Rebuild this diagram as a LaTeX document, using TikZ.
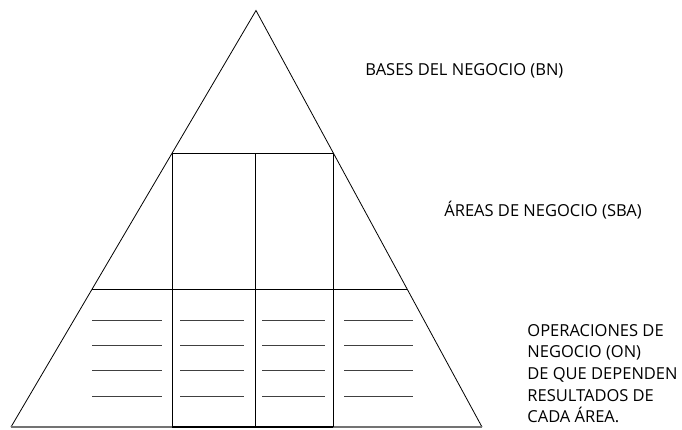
\documentclass[tikz,border=0pt]{standalone}
\usepackage{fontspec}
\setmainfont{Open Sans}
\begin{document}
\begin{tikzpicture}[x=1pt,y=-1pt,line width=.8pt,
    lbl/.style={anchor=base west,inner sep=0pt,align=left,font=\fontsize{16.5}{22}\selectfont}]
    \useasboundingbox (0,0) rectangle (682,429);
    \coordinate (apex) at (256,10.5);
    \coordinate (bl) at (11,427);
    \coordinate (br) at (482,427);
    \draw (bl) -- (apex) -- (br);
    \draw [black!55,line width=1.3pt] (bl) -- (br);
    % areas box and operations band
    \draw (172,153) -- (333,153);
    \draw (92,289) -- (407,289);
    \foreach \x in {172,255,333}
        \draw [line width=1pt] (\x,153) -- (\x,427);
    \draw [line width=1.8pt] (172,427) -- (333,427);
    \foreach \a/\b in {92/162,180/244,262/325,344/413}
        \foreach \y in {320,345,370,396}
            \draw [black!75] (\a,\y) -- (\b,\y);
    \node [lbl] (bn) at (365,75) {BASES DEL NEGOCIO (BN)};
    \node [lbl] (sba) at (444,216) {ÁREAS DE NEGOCIO (SBA)};
    \node [lbl,anchor=north west,font=\fontsize{16.5}{21.6}\selectfont] (on) at (527,324) {OPERACIONES DE\\NEGOCIO (ON)\\DE QUE DEPENDEN\\RESULTADOS DE\\CADA ÁREA.};
\end{tikzpicture}
\end{document}
